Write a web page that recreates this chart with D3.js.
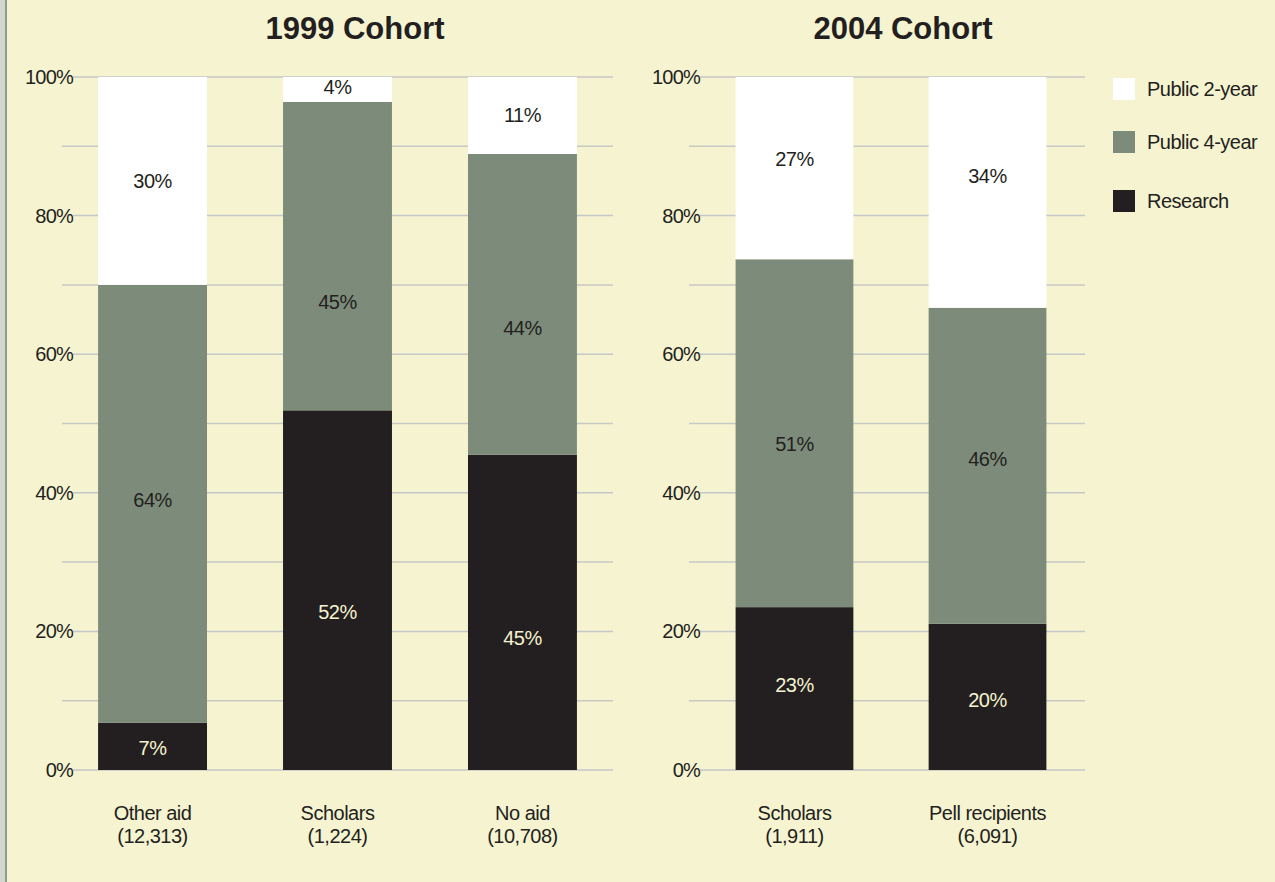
<!DOCTYPE html>
<html><head><meta charset="utf-8">
<script src="https://cdn.jsdelivr.net/npm/d3@7"></script>
<style>
html,body{margin:0;padding:0;background:#f5f3d0;}
svg{display:block;font-family:"Liberation Sans",Arial,sans-serif;}
</style></head>
<body>
<svg id="chart" width="1275" height="882"></svg>
<script>
// ---- data (segment values measured from bar heights; printed labels as shown) ----
const seriesKeys = ["Research", "Public 4-year", "Public 2-year"];
const legendOrder = ["Public 2-year", "Public 4-year", "Research"];

const cohort1999Title = "1999 Cohort";
const cohort1999Categories = ["Other aid", "Scholars", "No aid"];
const cohort1999Counts = ["(12,313)", "(1,224)", "(10,708)"];
const cohort1999Research = [6.8, 51.9, 45.5];
const cohort1999Public4 = [63.2, 44.5, 43.4];
const cohort1999Public2 = [30.0, 3.6, 11.1];
const cohort1999ResearchLabels = ["7%", "52%", "45%"];
const cohort1999Public4Labels = ["64%", "45%", "44%"];
const cohort1999Public2Labels = ["30%", "4%", "11%"];

const cohort2004Title = "2004 Cohort";
const cohort2004Categories = ["Scholars", "Pell recipients"];
const cohort2004Counts = ["(1,911)", "(6,091)"];
const cohort2004Research = [23.5, 21.1];
const cohort2004Public4 = [50.2, 45.6];
const cohort2004Public2 = [26.3, 33.3];
const cohort2004ResearchLabels = ["23%", "20%"];
const cohort2004Public4Labels = ["51%", "46%"];
const cohort2004Public2Labels = ["27%", "34%"];

const tickValues = [0, 20, 40, 60, 80, 100];
const tickLabels = ["0%", "20%", "40%", "60%", "80%", "100%"];
const minorTicks = [10, 30, 50, 70, 90];

// ---- layout / style ----
const colors = {"Research":"#231f20","Public 4-year":"#7d8c7a","Public 2-year":"#ffffff"};
const labelColors = {"Research":"#f5f3d0","Public 4-year":"#231f20","Public 2-year":"#231f20"};
// where each value label sits inside its segment (fraction of segment height from bottom)
const labelPlace1999 = {"Research":[0.47,0.44,0.42],"Public 4-year":[0.51,0.35,0.42],"Public 2-year":[0.50,0.58,0.51]};
const labelPlace2004 = {"Research":[0.52,0.48],"Public 4-year":[0.47,0.52],"Public 2-year":[0.55,0.57]};

const svg = d3.select("#chart");
svg.append("rect").attr("x",0).attr("y",0).attr("width",1275).attr("height",882).attr("fill","#f5f3d0");
svg.append("rect").attr("x",0).attr("y",0).attr("width",5).attr("height",882).attr("fill","#d3d7cf");
svg.append("rect").attr("x",5).attr("y",0).attr("width",2).attr("height",882).attr("fill","#8f9d8c");

const y = d3.scaleLinear().domain([0,100]).range([770,77]);

function panel(opts){
  const rows = opts.categories.map((c,i)=>({cat:c, idx:i, count:opts.counts[i],
    "Research":opts.research[i], "Public 4-year":opts.public4[i], "Public 2-year":opts.public2[i]}));
  const labels = {"Research":opts.researchLabels,"Public 4-year":opts.public4Labels,"Public 2-year":opts.public2Labels};
  const stacked = d3.stack().keys(seriesKeys)(rows);
  const x = d3.scaleBand().domain(opts.categories).range(opts.range)
    .paddingInner(opts.pi).paddingOuter(opts.po);
  const g = svg.append("g");
  g.append("text").attr("x",opts.titleX).attr("y",39).attr("text-anchor","middle")
    .attr("font-size",31).attr("font-weight","bold").attr("fill","#231f20").text(opts.title);
  g.selectAll("line.minor").data(minorTicks).join("line")
    .attr("x1",opts.gridX0).attr("x2",opts.gridX1)
    .attr("y1",d=>y(d)).attr("y2",d=>y(d)).attr("stroke","#c9c9c4").attr("stroke-width",1.5);
  g.selectAll("line.major").data(tickValues).join("line")
    .attr("x1",opts.gridX0+11).attr("x2",opts.gridX1)
    .attr("y1",d=>y(d)).attr("y2",d=>y(d)).attr("stroke","#c6c7c9").attr("stroke-width",1.5);
  g.selectAll("text.tick").data(tickValues).join("text")
    .attr("x",opts.gridX0+11).attr("y",d=>y(d)).attr("dy","0.35em")
    .attr("text-anchor","end").attr("font-size",20).attr("letter-spacing",-0.8)
    .attr("fill","#231f20").text((d,i)=>tickLabels[i]);
  stacked.forEach(s=>{
    const key = s.key;
    g.selectAll(null).data(s).join("rect")
      .attr("x",d=>x(d.data.cat)).attr("width",x.bandwidth())
      .attr("y",d=>y(Math.min(d[1],100))).attr("height",d=>y(d[0])-y(Math.min(d[1],100)))
      .attr("fill",colors[key]);
    g.selectAll(null).data(s).join("text")
      .attr("x",d=>x(d.data.cat)+x.bandwidth()/2)
      .attr("y",d=>{const f=opts.place[key][d.data.idx]; const top=Math.min(d[1],100);
        return y(d[0]+(top-d[0])*f);})
      .attr("dy","0.35em")
      .attr("text-anchor","middle").attr("font-size",20).attr("letter-spacing",-0.5)
      .attr("fill",labelColors[key]).text(d=>labels[key][d.data.idx]);
  });
  const cl = g.selectAll(null).data(rows).join("text")
    .attr("text-anchor","middle").attr("font-size",20).attr("letter-spacing",-0.5).attr("fill","#231f20");
  cl.append("tspan").attr("x",d=>x(d.cat)+x.bandwidth()/2).attr("y",820).text(d=>d.cat);
  cl.append("tspan").attr("x",d=>x(d.cat)+x.bandwidth()/2).attr("y",843).text(d=>d.count);
}

panel({title:cohort1999Title, titleX:355, categories:cohort1999Categories, counts:cohort1999Counts,
  research:cohort1999Research, public4:cohort1999Public4, public2:cohort1999Public2,
  researchLabels:cohort1999ResearchLabels, public4Labels:cohort1999Public4Labels, public2Labels:cohort1999Public2Labels,
  place:labelPlace1999,
  range:[62,613], pi:0.411, po:0.195, gridX0:62, gridX1:613});
panel({title:cohort2004Title, titleX:903, categories:cohort2004Categories, counts:cohort2004Counts,
  research:cohort2004Research, public4:cohort2004Public4, public2:cohort2004Public2,
  researchLabels:cohort2004ResearchLabels, public4Labels:cohort2004Public4Labels, public2Labels:cohort2004Public2Labels,
  place:labelPlace2004,
  range:[697,1085], pi:0.39, po:0.2, gridX0:689, gridX1:1085});

const leg = svg.append("g");
const legY = d3.scalePoint().domain(legendOrder).range([89,201]);
const legOffsets = {"Public 2-year":0,"Public 4-year":-3,"Research":0};
leg.selectAll("rect").data(legendOrder).join("rect")
  .attr("x",1113).attr("y",d=>legY(d)+legOffsets[d]-11).attr("width",22).attr("height",22)
  .attr("fill",d=>colors[d]);
leg.selectAll("text").data(legendOrder).join("text")
  .attr("x",1147).attr("y",d=>legY(d)+legOffsets[d]).attr("dy","0.35em")
  .attr("font-size",20).attr("letter-spacing",-0.5).attr("fill","#231f20").text(d=>d);
</script>
</body></html>
